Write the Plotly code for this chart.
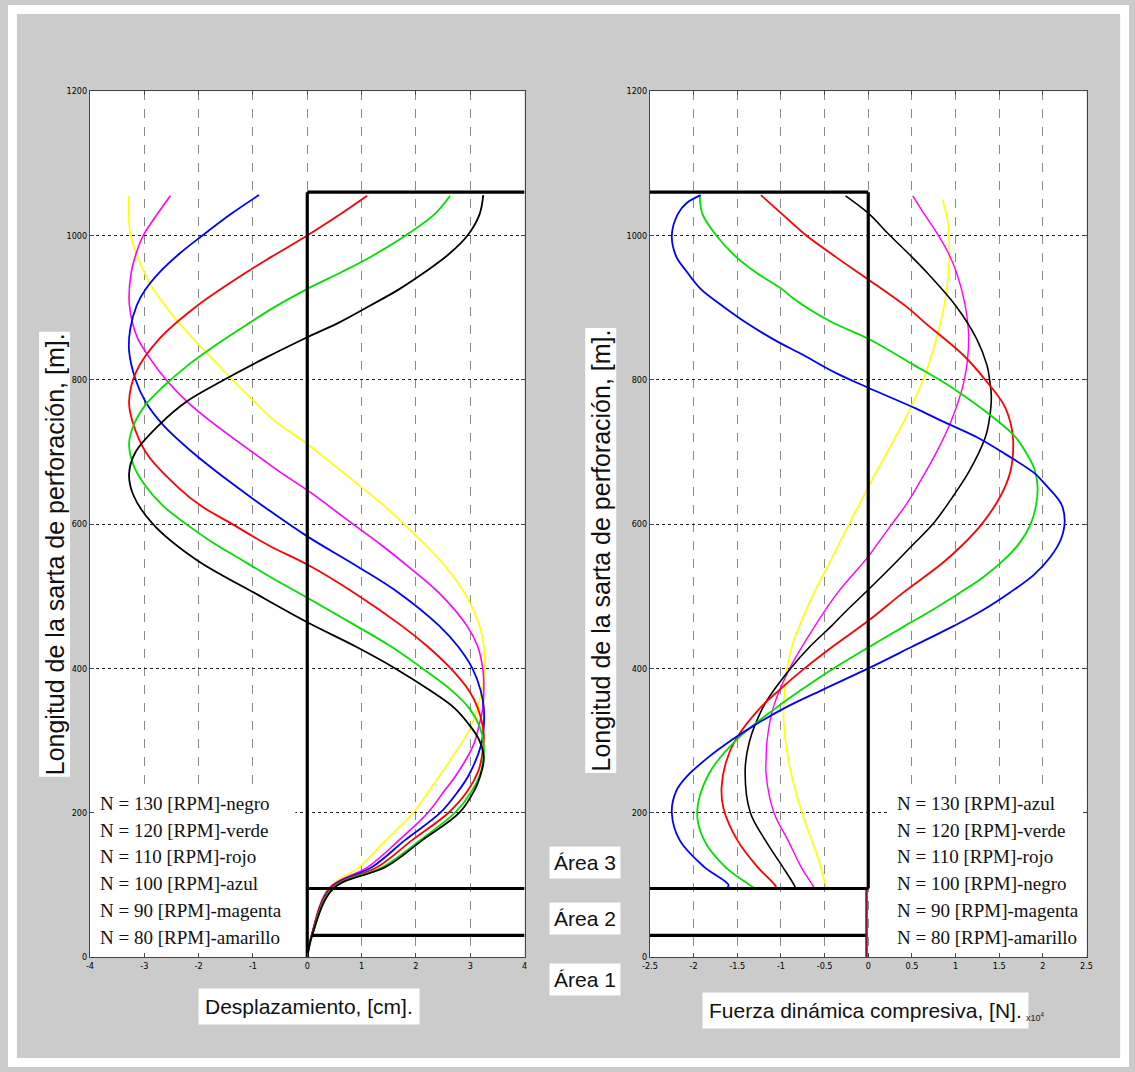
import plotly.graph_objects as go

W, H = 1135, 1072

# ---------------- data ----------------
# Left panel: Desplazamiento [cm] vs longitud de la sarta [m]
desp_130_y = [1056, 1029, 1000, 975, 949, 925, 903, 880, 859, 830, 800, 770, 738, 700, 670, 640, 600, 551, 505, 464, 430, 400, 370, 345, 320, 300, 275, 250, 230, 200, 162, 125, 95, 30, 0]
desp_130_x = [3.24, 3.17, 2.95, 2.62, 2.16, 1.68, 1.16, 0.60, 0.00, -0.78, -1.53, -2.22, -2.72, -3.16, -3.28, -3.20, -2.84, -2.05, -0.98, 0.00, 0.90, 1.62, 2.25, 2.71, 3.00, 3.17, 3.25, 3.18, 3.07, 2.80, 2.12, 1.45, 0.48, 0.09, 0.00]
desp_120_y = [1055, 1030, 1000, 971, 950, 926, 900, 880, 850, 820, 790, 766, 740, 712, 680, 651, 625, 600, 575, 551, 525, 498, 459, 430, 400, 370, 345, 320, 294, 258, 230, 200, 162, 125, 95, 30, 0]
desp_120_x = [2.63, 2.35, 1.81, 1.18, 0.65, 0.00, -0.62, -1.04, -1.65, -2.20, -2.66, -2.97, -3.18, -3.28, -3.19, -2.96, -2.65, -2.23, -1.75, -1.22, -0.64, 0.00, 0.90, 1.55, 2.12, 2.65, 2.98, 3.17, 3.25, 3.20, 3.03, 2.72, 2.08, 1.40, 0.46, 0.09, 0.00]
desp_110_y = [1055, 1030, 1000, 970, 949, 903, 857, 811, 770, 743, 697, 651, 625, 600, 570, 544, 505, 459, 430, 400, 370, 345, 308, 280, 258, 230, 200, 162, 125, 95, 30, 0]
desp_110_x = [1.10, 0.62, 0.00, -0.67, -1.12, -2.02, -2.72, -3.15, -3.28, -3.22, -2.95, -2.38, -1.95, -1.38, -0.70, 0.00, 0.86, 1.74, 2.22, 2.64, 2.97, 3.14, 3.25, 3.22, 3.15, 2.95, 2.60, 1.93, 1.30, 0.44, 0.08, 0.00]
desp_100_y = [1056, 1030, 1000, 975, 949, 925, 903, 870, 840, 800, 770, 738, 700, 660, 620, 583, 541, 505, 459, 430, 400, 370, 345, 320, 294, 253, 230, 200, 162, 125, 95, 30, 0]
desp_100_x = [-0.89, -1.40, -1.93, -2.35, -2.72, -2.98, -3.14, -3.26, -3.28, -3.16, -2.98, -2.66, -2.12, -1.45, -0.72, 0.00, 0.93, 1.68, 2.43, 2.78, 3.04, 3.19, 3.25, 3.25, 3.20, 2.98, 2.78, 2.45, 1.80, 1.20, 0.42, 0.08, 0.00]
desp_90_y = [1055, 1020, 1000, 975, 949, 910, 880, 857, 830, 800, 770, 743, 720, 697, 672, 647, 600, 570, 541, 505, 459, 430, 400, 380, 345, 320, 294, 253, 230, 200, 162, 125, 95, 30, 0]
desp_90_x = [-2.52, -2.85, -3.02, -3.15, -3.24, -3.28, -3.22, -3.12, -2.90, -2.60, -2.22, -1.79, -1.38, -0.96, -0.50, 0.00, 0.84, 1.38, 1.86, 2.42, 2.94, 3.14, 3.23, 3.25, 3.23, 3.16, 3.06, 2.75, 2.52, 2.22, 1.69, 1.12, 0.40, 0.08, 0.00]
desp_80_y = [1055, 1026, 1000, 975, 949, 925, 903, 880, 857, 830, 800, 770, 743, 711, 680, 651, 625, 600, 575, 545, 505, 459, 413, 368, 322, 276, 230, 200, 162, 125, 95, 30, 0]
desp_80_x = [-3.28, -3.29, -3.25, -3.15, -3.00, -2.83, -2.62, -2.38, -2.10, -1.76, -1.38, -0.98, -0.60, 0.00, 0.52, 1.00, 1.42, 1.78, 2.12, 2.50, 2.89, 3.17, 3.27, 3.21, 3.03, 2.66, 2.24, 1.95, 1.45, 0.96, 0.38, 0.08, 0.00]

# Right panel: Fuerza dinamica compresiva [N] (x10^4) vs longitud [m]
fuerza_130_y = [1056, 1045, 1030, 1000, 971, 950, 926, 905, 880, 855, 834, 810, 789, 760, 743, 720, 697, 670, 656, 628, 605, 580, 555, 530, 505, 480, 459, 430, 400, 370, 345, 320, 301, 276, 250, 230, 200, 162, 125, 100, 95]
fuerza_130_x = [-1.92, -2.08, -2.18, -2.25, -2.20, -2.08, -1.92, -1.70, -1.41, -1.07, -0.74, -0.38, 0.00, 0.55, 0.84, 1.25, 1.57, 1.91, 2.02, 2.21, 2.25, 2.21, 2.09, 1.90, 1.62, 1.30, 0.98, 0.50, 0.00, -0.53, -0.96, -1.32, -1.56, -1.84, -2.08, -2.20, -2.25, -2.16, -1.88, -1.60, -1.62]
fuerza_120_y = [1056, 1030, 1000, 971, 949, 925, 912, 880, 857, 820, 789, 747, 720, 690, 674, 650, 625, 600, 575, 550, 525, 505, 480, 459, 429, 400, 370, 345, 301, 253, 200, 162, 125, 100, 95]
fuerza_120_x = [-1.93, -1.90, -1.74, -1.52, -1.29, -0.98, -0.85, -0.42, 0.00, 0.53, 0.96, 1.44, 1.69, 1.85, 1.91, 1.94, 1.92, 1.86, 1.74, 1.55, 1.30, 1.05, 0.72, 0.42, 0.00, -0.40, -0.77, -1.06, -1.51, -1.83, -1.96, -1.88, -1.64, -1.36, -1.30]
fuerza_110_y = [1056, 1030, 1001, 970, 939, 900, 880, 834, 800, 766, 740, 715, 674, 640, 600, 570, 545, 505, 466, 430, 400, 370, 345, 301, 270, 235, 207, 162, 125, 100, 95]
fuerza_110_x = [-1.23, -0.99, -0.72, -0.37, 0.00, 0.45, 0.64, 1.09, 1.34, 1.55, 1.63, 1.66, 1.63, 1.52, 1.30, 1.07, 0.84, 0.40, 0.00, -0.41, -0.73, -1.02, -1.24, -1.52, -1.63, -1.68, -1.66, -1.50, -1.27, -1.07, -1.05]
fuerza_100_y = [1055, 1031, 1001, 975, 949, 903, 857, 820, 800, 775, 740, 720, 674, 640, 600, 570, 545, 509, 480, 459, 430, 400, 370, 345, 299, 258, 200, 162, 125, 100, 95]
fuerza_100_x = [-0.26, 0.00, 0.24, 0.46, 0.67, 1.00, 1.24, 1.36, 1.39, 1.41, 1.38, 1.34, 1.16, 0.98, 0.74, 0.50, 0.30, 0.00, -0.25, -0.42, -0.67, -0.89, -1.08, -1.21, -1.36, -1.41, -1.35, -1.18, -0.98, -0.85, -0.83]
fuerza_90_y = [1055, 1030, 1001, 975, 949, 903, 857, 800, 743, 697, 650, 628, 600, 575, 555, 505, 459, 400, 345, 299, 275, 253, 200, 162, 125, 100, 95]
fuerza_90_x = [0.51, 0.64, 0.80, 0.92, 1.01, 1.11, 1.15, 1.10, 0.95, 0.77, 0.55, 0.44, 0.27, 0.12, 0.00, -0.35, -0.61, -0.90, -1.09, -1.16, -1.17, -1.17, -1.08, -0.92, -0.77, -0.64, -0.62]
fuerza_80_y = [1050, 1020, 980, 949, 903, 857, 800, 743, 700, 674, 651, 600, 545, 505, 470, 436, 400, 368, 331, 276, 200, 139, 100, 95]
fuerza_80_x = [0.85, 0.91, 0.93, 0.92, 0.87, 0.78, 0.63, 0.41, 0.22, 0.10, 0.00, -0.22, -0.45, -0.62, -0.75, -0.86, -0.93, -0.96, -0.97, -0.92, -0.76, -0.58, -0.49, -0.48]
# near-zero force in areas 1 and 2 (BHA)
fuerza_bha_y = [0, 95]
fuerza_bha_x = [-0.02, -0.02]

# Drill-string areas [m]
limite_area1 = 30
limite_area2 = 95
longitud_sarta = 1060

leyenda_izq = ["N = 130 [RPM]-negro", "N = 120 [RPM]-verde", "N = 110 [RPM]-rojo",
               "N = 100 [RPM]-azul", "N = 90 [RPM]-magenta", "N = 80 [RPM]-amarillo"]
leyenda_der = ["N = 130 [RPM]-azul", "N = 120 [RPM]-verde", "N = 110 [RPM]-rojo",
               "N = 100 [RPM]-negro", "N = 90 [RPM]-magenta", "N = 80 [RPM]-amarillo"]
areas = ["Área 3", "Área 2", "Área 1"]

x_ticks_izq = [-4, -3, -2, -1, 0, 1, 2, 3, 4]
x_ticks_der = [-2.5, -2, -1.5, -1, -0.5, 0, 0.5, 1, 1.5, 2, 2.5]
x_ticklabels_der = ["-2.5", "-2", "-1.5", "-1", "-0.5", "0", "0.5", "1", "1.5", "2", "2.5"]
y_ticks = [0, 200, 400, 600, 800, 1000, 1200]

# ---------------- styling ----------------
BLACK, GREEN, RED, BLUE, MAG, YEL = "#000000", "#00e000", "#ff0000", "#0000ff", "#ff00ff", "#ffff00"

curvas_izq = [
    (desp_80_x, desp_80_y, YEL, 1.6),
    (desp_90_x, desp_90_y, MAG, 1.6),
    (desp_100_x, desp_100_y, BLUE, 1.8),
    (desp_110_x, desp_110_y, RED, 1.8),
    (desp_120_x, desp_120_y, GREEN, 1.8),
    (desp_130_x, desp_130_y, BLACK, 1.8),
]
curvas_der = [
    (fuerza_80_x, fuerza_80_y, YEL, 1.6),
    (fuerza_90_x, fuerza_90_y, MAG, 1.4),
    (fuerza_100_x, fuerza_100_y, BLACK, 1.6),
    (fuerza_110_x, fuerza_110_y, RED, 1.8),
    (fuerza_120_x, fuerza_120_y, GREEN, 1.8),
    (fuerza_130_x, fuerza_130_y, BLUE, 1.8),
]

fig = go.Figure()

for xs, ys, c, w in curvas_izq:
    fig.add_trace(go.Scatter(x=xs, y=ys, mode="lines", line=dict(color=c, width=w, shape="spline", smoothing=1.0),
                             xaxis="x", yaxis="y", showlegend=False, hoverinfo="skip"))
for xs, ys, c, w in curvas_der:
    fig.add_trace(go.Scatter(x=xs, y=ys, mode="lines", line=dict(color=c, width=w, shape="spline", smoothing=1.0),
                             xaxis="x2", yaxis="y2", showlegend=False, hoverinfo="skip"))
fig.add_trace(go.Scatter(x=fuerza_bha_x, y=fuerza_bha_y, mode="lines", line=dict(color="#8a1030", width=2.5),
                         xaxis="x2", yaxis="y2", showlegend=False, hoverinfo="skip"))

# thick structure lines (area limits)
SW = 3.2
estructuras_izq = [
    ([0, 0], [0, longitud_sarta]),
    ([0, 4], [longitud_sarta, longitud_sarta]),
    ([0, 4], [limite_area2, limite_area2]),
    ([0.08, 4], [limite_area1, limite_area1]),
]
estructuras_der = [
    ([0, 0], [limite_area2, longitud_sarta]),
    ([-2.5, 0], [longitud_sarta, longitud_sarta]),
    ([-2.5, 0], [limite_area2, limite_area2]),
    ([-2.5, -0.03], [limite_area1, limite_area1]),
]
for xs, ys in estructuras_izq:
    fig.add_trace(go.Scatter(x=xs, y=ys, mode="lines", line=dict(color="black", width=SW),
                             xaxis="x", yaxis="y", showlegend=False, hoverinfo="skip", cliponaxis=False))
for xs, ys in estructuras_der:
    fig.add_trace(go.Scatter(x=xs, y=ys, mode="lines", line=dict(color="black", width=SW),
                             xaxis="x2", yaxis="y2", showlegend=False, hoverinfo="skip", cliponaxis=False))


def px_x(p):
    return p / W


def px_y(p):
    return 1 - p / H


tickfont = dict(family="Liberation Sans Narrow, DejaVu Sans Condensed, Arial Narrow, sans-serif", size=9, color="black")
common_x = dict(showgrid=True, gridcolor="#8a8a8a", griddash="dash", gridwidth=1, zeroline=False,
                showline=True, linecolor="#444", linewidth=1, mirror="ticks", ticks="inside",
                ticklen=4, tickcolor="#444", tickfont=tickfont)
common_y = dict(showgrid=True, gridcolor="#222", griddash="dot", gridwidth=1, zeroline=False,
                showline=True, linecolor="#444", linewidth=1, mirror="ticks", ticks="inside",
                ticklen=4, tickcolor="#444", tickfont=tickfont, range=[0, 1200],
                tickvals=y_ticks, ticktext=[str(v) for v in y_ticks])

y_dom = [px_y(961), px_y(87)]
fig.update_layout(
    width=W, height=H, autosize=False,
    margin=dict(l=0, r=0, t=0, b=0),
    paper_bgcolor="#cbcbcb", plot_bgcolor="white",
    xaxis=dict(domain=[px_x(83), px_x(523)], range=[-4, 4], tickvals=x_ticks_izq,
               ticktext=[str(v) for v in x_ticks_izq], anchor="y", **common_x),
    yaxis=dict(domain=y_dom, anchor="x", **common_y),
    xaxis2=dict(domain=[px_x(650), px_x(1092)], range=[-2.5, 2.5], tickvals=x_ticks_der,
                ticktext=x_ticklabels_der, anchor="y2", **common_x),
    yaxis2=dict(domain=y_dom, anchor="x2", **common_y),
)

shapes = []
# white outer border
for (x0, y0, x1, y1) in [(0, 0, 9, H), (W - 9, 0, W, H), (0, 0, W, 9), (0, H - 9, W, H)]:
    shapes.append(dict(type="rect", xref="paper", yref="paper", x0=px_x(x0), x1=px_x(x1),
                       y0=px_y(y1), y1=px_y(y0), fillcolor="white", line=dict(width=0), layer="above"))
# legend white boxes (cover gridlines, under traces)
shapes.append(dict(type="rect", xref="x", yref="y", x0=-4, x1=-0.22, y0=5, y1=237,
                   fillcolor="white", line=dict(width=0), layer="between"))
shapes.append(dict(type="rect", xref="x2", yref="y2", x0=0.23, x1=2.5, y0=5, y1=237,
                   fillcolor="white", line=dict(width=0), layer="between"))
fig.update_layout(shapes=shapes)

ann = []
legfont = dict(family="Liberation Serif, Times New Roman, serif", size=19, color="#111")
line_py = [806, 833, 860, 887, 914, 941]
for txt, py in zip(leyenda_izq, line_py):
    ann.append(dict(text=txt, xref="paper", yref="paper", x=px_x(91), y=px_y(py),
                    xanchor="left", yanchor="middle", showarrow=False, font=legfont))
for txt, py in zip(leyenda_der, line_py):
    ann.append(dict(text=txt, xref="paper", yref="paper", x=px_x(898), y=px_y(py),
                    xanchor="left", yanchor="middle", showarrow=False, font=legfont))

ytitlefont = dict(family="Liberation Sans, Arial, sans-serif", size=25, color="#111")
titlefont = dict(family="Liberation Sans, Arial, sans-serif", size=21, color="#111")
ann.append(dict(text="Longitud de la sarta de perforación, [m].", xref="paper", yref="paper",
                x=px_x(47), y=px_y(554), textangle=-90, showarrow=False, font=ytitlefont,
                bgcolor="white", borderpad=1, xanchor="center", yanchor="middle"))
ann.append(dict(text="Longitud de la sarta de perforación, [m].", xref="paper", yref="paper",
                x=px_x(600), y=px_y(551), textangle=-90, showarrow=False, font=ytitlefont,
                bgcolor="white", borderpad=1, xanchor="center", yanchor="middle"))
ann.append(dict(text="Desplazamiento, [cm].", xref="paper", yref="paper",
                x=px_x(305), y=px_y(1011), showarrow=False, font=titlefont,
                bgcolor="white", borderpad=6, xanchor="center", yanchor="middle"))
ann.append(dict(text="Fuerza dinámica compresiva, [N].", xref="paper", yref="paper",
                x=px_x(868), y=px_y(1015), showarrow=False, font=titlefont,
                bgcolor="white", borderpad=6, xanchor="center", yanchor="middle"))
areafont = dict(family="Liberation Sans, Arial, sans-serif", size=21, color="#111")
for txt, py in zip(areas, [866, 922, 984]):
    ann.append(dict(text=txt, xref="paper", yref="paper", x=px_x(584), y=px_y(py),
                    showarrow=False, font=areafont, bgcolor="white", borderpad=4,
                    xanchor="center", yanchor="middle"))
ann.append(dict(text="x10<sup>4</sup>", xref="paper", yref="paper", x=px_x(1040), y=px_y(1022),
                showarrow=False, font=dict(family="Liberation Sans, Arial, sans-serif", size=9, color="#222"),
                xanchor="center", yanchor="middle"))
fig.update_layout(annotations=ann)

fig.write_html("out.html", config={"displayModeBar": False},
               post_script="document.body.style.margin='0px';document.body.style.overflow='hidden';")
